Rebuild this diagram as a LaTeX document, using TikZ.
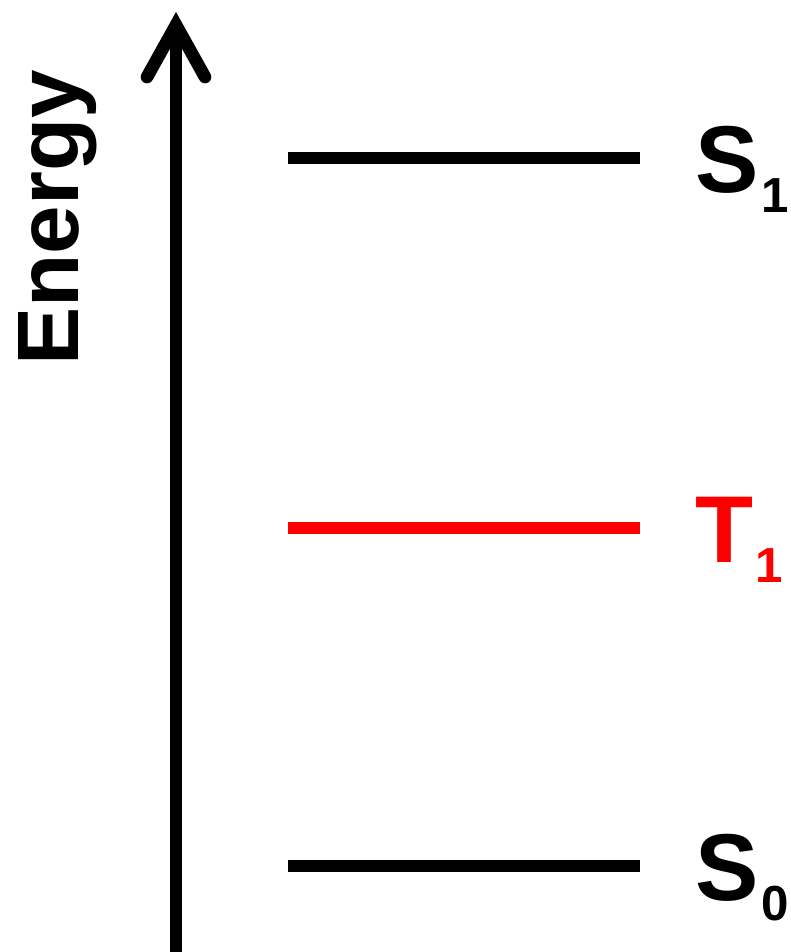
\documentclass[tikz,border=0pt]{standalone}
\usepackage{fontspec}
\setmainfont{Liberation Sans}
\usetikzlibrary{arrows.meta}
\tikzset{
  niveau/.style={line width=3.4pt},
  os/.style={line width=3.4pt,-{Straight Barb[length=5.2mm,width=5.8mm,line width=3.6pt 0,line cap=round,line join=miter]}},
  oznaka/.style={anchor=base west,inner sep=0pt,font=\bfseries\fontsize{27}{27}\selectfont},
}
\newcommand{\ind}[1]{\hspace{0.2mm}\raisebox{-5.7pt}{\fontsize{14}{14}\selectfont #1}}

\begin{document}
\begin{tikzpicture}[x=0.01cm,y=-0.01cm]
  \useasboundingbox (0,0) rectangle (790,952);

  % ---------- OS ENERGIJE ----------
  \coordinate (dno) at (176,965);
  \coordinate (vrh) at (176,12);
  \draw[os] (dno) -- (vrh);
  \node[rotate=90,inner sep=0pt,font=\bfseries\fontsize{24.8}{25}\selectfont] (energy) at (58,218) {Energy};

  % ---------- NIVOI ----------
  \foreach \ime/\y/\boja/\slovo/\br in {s1/158/black/S/1, t1/528/red/T/1, s0/866/black/S/0}
  {
    \coordinate (\ime L) at (288,\y);
    \coordinate (\ime D) at (640,\y);
    \draw[niveau,draw=\boja] (\ime L) -- (\ime D);
    \node[oznaka,text=\boja] (\ime lab) at ([xshift=5.5mm,yshift=-3.4mm]\ime D) {\slovo\ind{\br}};
  }

\end{tikzpicture}
\end{document}
